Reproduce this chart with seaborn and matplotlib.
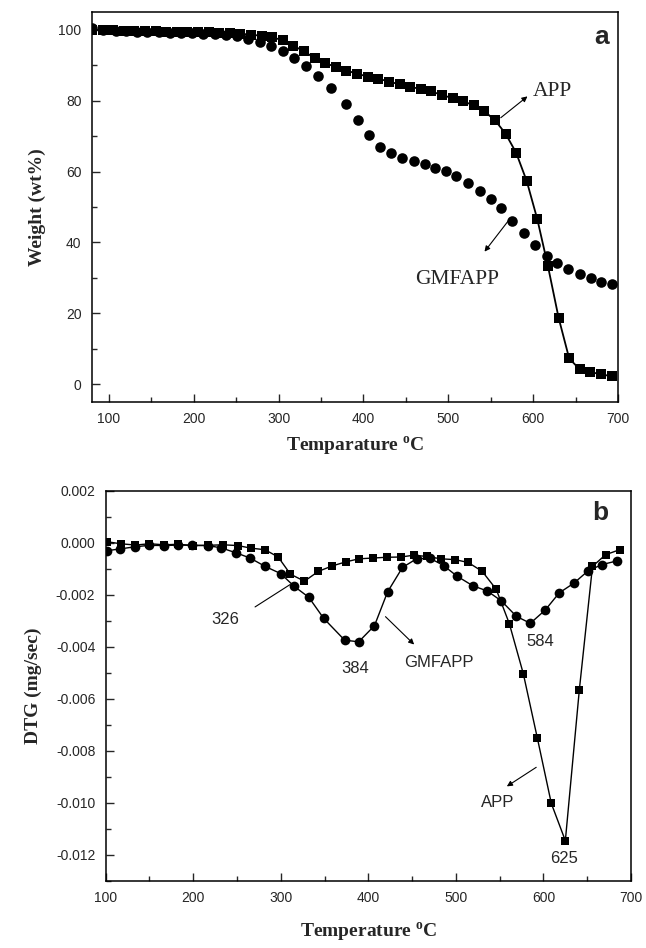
import matplotlib
matplotlib.use("Agg")
import matplotlib.pyplot as plt
from matplotlib.ticker import MultipleLocator, FormatStrFormatter
import seaborn as sns

# ---- panel a: TGA weight loss ----
temp_a_app = [80, 92.5, 105, 117.5, 130, 142.5, 155, 167.5, 180, 192.5, 205, 217.5, 230, 242.5,
              255, 267.5, 280, 292.5, 305, 317.5, 330, 342.5, 355, 367.5, 380, 392.5, 405, 417.5,
              430, 442.5, 455, 467.5, 480, 492.5, 505, 517.5, 530, 542.5, 555, 567.5, 580, 592.5,
              605, 617.5, 630, 642.5, 655, 667.5, 680, 692.5]
wt_app = [100.0, 99.9, 99.8, 99.7, 99.7, 99.6, 99.6, 99.5, 99.5, 99.4, 99.4, 99.3, 99.2, 99.1,
          98.9, 98.6, 98.3, 97.9, 97.0, 95.5, 93.9, 92.0, 90.6, 89.5, 88.5, 87.6, 86.8, 86.2,
          85.4, 84.6, 83.9, 83.3, 82.6, 81.6, 80.7, 79.8, 78.7, 77.0, 74.5, 70.7, 65.3, 57.3,
          46.5, 33.3, 18.8, 7.3, 4.2, 3.5, 2.8, 2.3]

temp_a_gmf = [80, 93, 108, 120, 133, 145, 159, 172, 185, 198, 211, 225, 238, 251, 264, 278, 291,
              305, 318, 332, 346, 362, 379, 393, 406, 420, 433, 446, 459, 472, 484, 497, 509, 523,
              537, 550, 562, 575, 589, 602, 616, 628, 641, 655, 668, 680, 693]
wt_gmf = [100.4, 99.9, 99.7, 99.6, 99.5, 99.4, 99.3, 99.2, 99.1, 99.0, 98.9, 98.8, 98.6, 98.2,
          97.5, 96.5, 95.3, 94.0, 92.1, 89.9, 87.0, 83.5, 79.0, 74.5, 70.2, 67.0, 65.2, 63.9,
          63.0, 62.0, 61.0, 60.1, 58.7, 56.8, 54.6, 52.4, 49.8, 46.2, 42.8, 39.2, 36.3, 34.3,
          32.6, 31.2, 30.0, 28.9, 28.2]

# ---- panel b: DTG ----
temp_b_app = [101, 117, 134, 150, 167, 183, 200, 217, 234, 251, 266, 282, 297, 311, 327, 343,
              359, 374, 389, 405, 421, 437, 452, 467, 483, 499, 514, 530, 546, 561, 577, 593,
              609, 625, 641, 656, 671, 687]
dtg_app = [0.00005, -0.00003, -0.00008, -0.00003, -0.00007, -0.00005, -0.0001, -0.00009,
           -0.00007, -0.0001, -0.0002, -0.00026, -0.00054, -0.0012, -0.00147, -0.00109,
           -0.00088, -0.00073, -0.00061, -0.00058, -0.00055, -0.00054, -0.00047, -0.00052,
           -0.00061, -0.00064, -0.00075, -0.00109, -0.00178, -0.0031, -0.00503, -0.0075,
           -0.01002, -0.01145, -0.00564, -0.0009, -0.00045, -0.00026]

temp_b_gmf = [101, 116, 133, 150, 167, 183, 199, 217, 232, 249, 265, 282, 300, 315, 332, 349,
              373, 389, 407, 422, 439, 455, 470, 486, 501, 519, 536, 552, 569, 585, 602, 618,
              635, 651, 667, 684]
dtg_gmf = [-0.0003, -0.00023, -0.00015, -0.00009, -0.0001, -0.00008, -0.00009, -0.0001,
           -0.00019, -0.00038, -0.00058, -0.0009, -0.00118, -0.00166, -0.00209, -0.0029,
           -0.00374, -0.0038, -0.00318, -0.00188, -0.00094, -0.00061, -0.00058, -0.00087,
           -0.00127, -0.00164, -0.00185, -0.00223, -0.00282, -0.00309, -0.00258, -0.00192,
           -0.00154, -0.00107, -0.00083, -0.00069]

sns.set_style("ticks")
plt.rcParams["font.family"] = ["Liberation Sans", "DejaVu Sans"]
plt.rcParams["axes.unicode_minus"] = False
plt.rcParams["mathtext.fontset"] = "custom"
plt.rcParams["mathtext.rm"] = "Liberation Serif"
plt.rcParams["mathtext.bf"] = "Liberation Serif:bold"

serif = ["Liberation Serif", "DejaVu Serif"]
lab_font = dict(family=serif, weight="bold", size=14)

fig = plt.figure(figsize=(6.46, 9.48), dpi=100)
ax1 = fig.add_axes([0.1424, 0.5759, 0.8142, 0.4114])
ax2 = fig.add_axes([0.1636, 0.0707, 0.8132, 0.4114])

# panel a
sns.lineplot(x=temp_a_app, y=wt_app, ax=ax1, color="k", marker="s", markersize=6.8,
             markeredgecolor="k", markeredgewidth=0, linewidth=1.3)
sns.scatterplot(x=temp_a_gmf, y=wt_gmf, ax=ax1, color="k", marker="o", s=58,
                edgecolor="k", linewidth=0)
ax1.set_xlim(80, 700)
ax1.set_ylim(-5, 105)
ax1.xaxis.set_major_locator(MultipleLocator(100))
ax1.xaxis.set_minor_locator(MultipleLocator(50))
ax1.yaxis.set_major_locator(MultipleLocator(20))
ax1.yaxis.set_minor_locator(MultipleLocator(10))
ax1.set_xlabel(r"Temparature $^{\mathbf{o}}$C", fontdict=lab_font, labelpad=6)
ax1.set_ylabel("Weight (wt%)", fontdict=lab_font, labelpad=9)

ax1.annotate("", xy=(595.9, 81.7), xytext=(559.3, 74.7),
             arrowprops=dict(arrowstyle="-|>", color="k", lw=0.8, mutation_scale=8))
ax1.text(599.4, 82.6, "APP", family=serif, fontsize=15.5, ha="left", va="center")
ax1.annotate("", xy=(540.7, 36.8), xytext=(572.3, 46.6),
             arrowprops=dict(arrowstyle="-|>", color="k", lw=0.8, mutation_scale=8))
ax1.text(510.3, 29.6, "GMFAPP", family=serif, fontsize=15.5, ha="center", va="center")
ax1.text(681, 98.1, "a", fontsize=19, fontweight="bold", ha="center", va="center")

# panel b
sns.lineplot(x=temp_b_app, y=dtg_app, ax=ax2, color="k", marker="s", markersize=6,
             markeredgecolor="k", markeredgewidth=0, linewidth=1.0)
sns.lineplot(x=temp_b_gmf, y=dtg_gmf, ax=ax2, color="k", marker="o", markersize=7,
             markeredgecolor="k", markeredgewidth=0, linewidth=1.0)
ax2.set_xlim(100, 700)
ax2.set_ylim(-0.013, 0.002)
ax2.xaxis.set_major_locator(MultipleLocator(100))
ax2.xaxis.set_minor_locator(MultipleLocator(50))
ax2.yaxis.set_major_locator(MultipleLocator(0.002))
ax2.yaxis.set_minor_locator(MultipleLocator(0.001))
ax2.yaxis.set_major_formatter(FormatStrFormatter("%.3f"))
ax2.set_xlabel(r"Temperature $^{\mathbf{o}}$C", fontdict=lab_font, labelpad=11)
ax2.set_ylabel("DTG (mg/sec)", fontdict=lab_font, labelpad=10)

ax2.plot([270.6, 310.6], [-0.00246, -0.0016], color="k", lw=0.8)
ax2.text(236.6, -0.00295, "326", fontsize=12, ha="center", va="center")
ax2.text(384.9, -0.00481, "384", fontsize=12, ha="center", va="center")
ax2.annotate("", xy=(454.6, -0.00398), xytext=(417.3, -0.00276),
             arrowprops=dict(arrowstyle="-|>", color="k", lw=0.8, mutation_scale=8))
ax2.text(481.1, -0.00459, "GMFAPP", fontsize=12, ha="center", va="center")
ax2.text(596.3, -0.00378, "584", fontsize=12, ha="center", va="center")
ax2.text(623, -0.01212, "625", fontsize=12, ha="center", va="center")
ax2.annotate("", xy=(555.5, -0.00942), xytext=(594.4, -0.00857),
             arrowprops=dict(arrowstyle="-|>", color="k", lw=0.8, mutation_scale=8))
ax2.text(547.5, -0.00998, "APP", fontsize=12, ha="center", va="center")
ax2.text(664.9, 0.00115, "b", fontsize=19, fontweight="bold", ha="center", va="center")

for ax in (ax1, ax2):
    for sp in ax.spines.values():
        sp.set_visible(True)
        sp.set_linewidth(1.1)
        sp.set_color("k")
    ax.tick_params(which="major", direction="in", length=6, width=1.0, pad=7.5,
                   labelsize=10, top=False, right=False)
    ax.tick_params(which="minor", direction="in", length=3.5, width=1.0,
                   top=False, right=False)

fig.savefig("out.png", dpi=100)
